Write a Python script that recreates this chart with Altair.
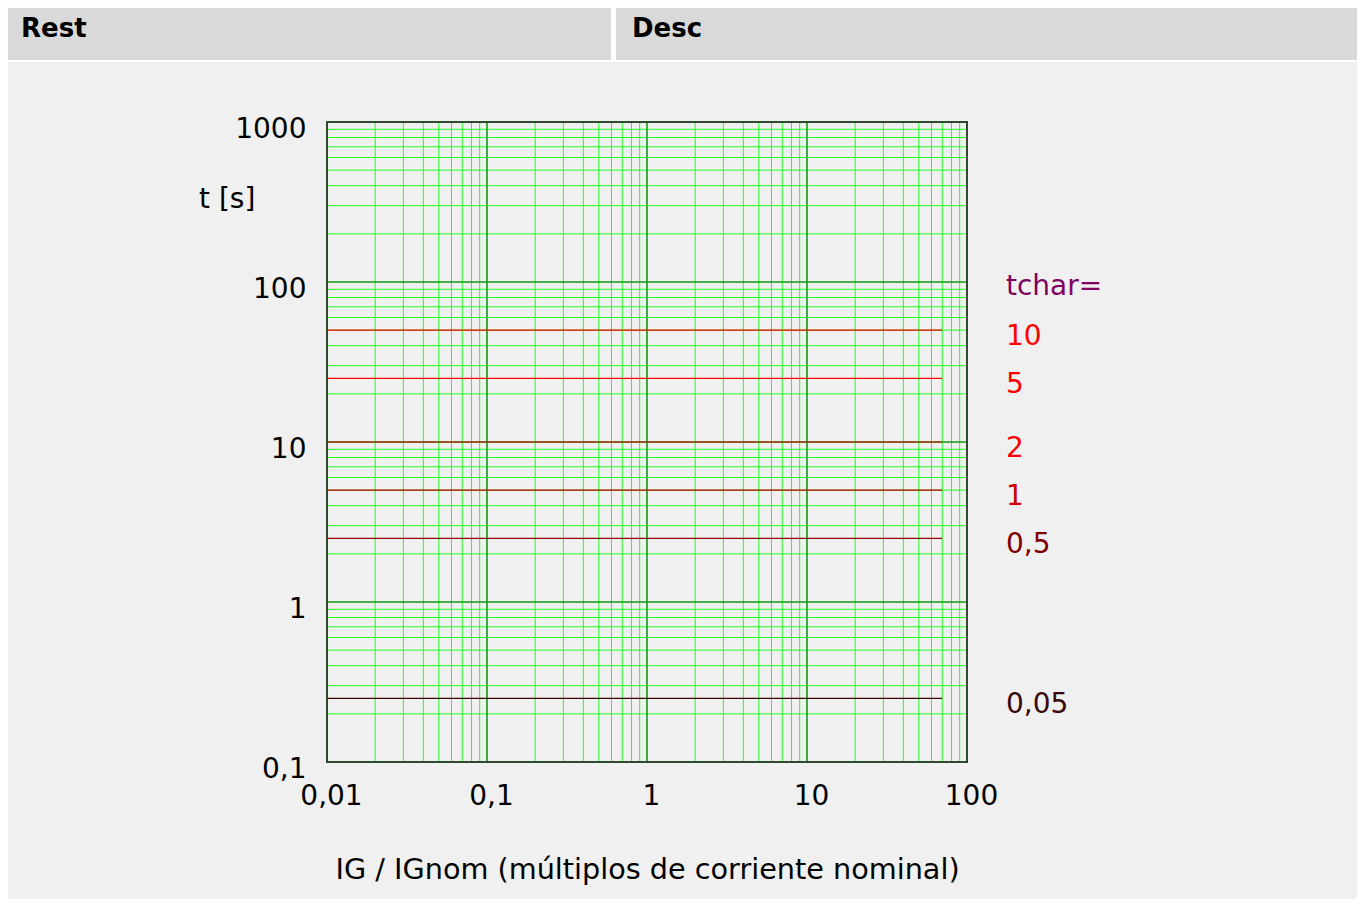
import altair as alt
import pandas as pd

# ---- data ----
x_major = [0.01, 0.1, 1, 10, 100]
y_major = [0.1, 1, 10, 100, 1000]
multipliers = [2, 3, 4, 5, 6, 7, 8, 9]
x_decades = [0.01, 0.1, 1, 10]
y_decades = [0.1, 1, 10, 100]
x_minor = [m * d for d in x_decades for m in multipliers]
y_minor = [m * d for d in y_decades for m in multipliers]

tchar_labels = ["10", "5", "2", "1", "0,5", "0,05"]
t_lines = [50, 25, 10, 5, 2.5, 0.25]
line_colors = ["#ff0000", "#ff0000", "#e00000", "#c80000", "#960000", "#3c0000"]
label_colors = ["#ff0000", "#ff0000", "#ff0000", "#cc0000", "#800000", "#3a0808"]
x_start = 0.01
x_end = 70

FONT = "DejaVu Sans"
FS = 28

xs = alt.Scale(type="log", domain=[0.01, 100], nice=False)
ys = alt.Scale(type="log", domain=[0.1, 1000], nice=False)

x_axis = alt.Axis(values=x_major, grid=False, ticks=False, domain=False,
                  labelExpr="replace(format(datum.value, '~g'), '.', ',')",
                  labelFlush=False, labelOverlap=False, labelPadding=20,
                  labelFontSize=FS, labelFont=FONT, labelColor="black",
                  labelOffset=4,
                  title="IG / IGnom (múltiplos de corriente nominal)",
                  titleFont=FONT, titleFontSize=28.7, titleFontWeight="normal",
                  titleColor="black", titlePadding=45)
y_axis = alt.Axis(values=y_major, grid=False, ticks=False, domain=False,
                  labelExpr="replace(format(datum.value, '~g'), '.', ',')",
                  labelFlush=False, labelOverlap=False, labelPadding=21,
                  labelFontSize=FS, labelFont=FONT, labelColor="black",
                  labelOffset=7, title=None)

one = pd.DataFrame({"a": [0]})

# header decoration
white_band = alt.Chart(one).mark_rect(color="white").encode(
    x=alt.value(-319), x2=alt.value(1031), y=alt.value(-114), y2=alt.value(-60))
hdr_rest = alt.Chart(one).mark_rect(color="#d9d9d9").encode(
    x=alt.value(-322), x2=alt.value(284), y=alt.value(-116), y2=alt.value(-62))
hdr_desc = alt.Chart(one).mark_rect(color="#d9d9d9").encode(
    x=alt.value(289), x2=alt.value(1031), y=alt.value(-116), y2=alt.value(-62))
txt_rest = alt.Chart(one).mark_text(text="Rest", font=FONT, fontSize=26, fontWeight="bold",
                                    align="left", baseline="alphabetic", color="black").encode(
    x=alt.value(-306), y=alt.value(-85))
txt_desc = alt.Chart(one).mark_text(text="Desc", font=FONT, fontSize=26, fontWeight="bold",
                                    align="left", baseline="alphabetic", color="black").encode(
    x=alt.value(305), y=alt.value(-85))

# grid
vminor = alt.Chart(pd.DataFrame({"x": x_minor})).mark_rule(
    color="#1fff1f", strokeWidth=1).encode(
    x=alt.X("x:Q", scale=xs, axis=x_axis))
hminor = alt.Chart(pd.DataFrame({"y": y_minor})).mark_rule(
    color="#1fff1f", strokeWidth=1).encode(
    y=alt.Y("y:Q", scale=ys, axis=y_axis))
vmajor = alt.Chart(pd.DataFrame({"x": x_major})).mark_rule(
    color="#129a12", strokeWidth=1.6).encode(
    x=alt.X("x:Q", scale=xs, axis=x_axis))
hmajor = alt.Chart(pd.DataFrame({"y": y_major})).mark_rule(
    color="#129a12", strokeWidth=1.6).encode(
    y=alt.Y("y:Q", scale=ys, axis=y_axis))

lines_df = pd.DataFrame({
    "t": t_lines, "x0": [x_start] * len(t_lines), "x1": [x_end] * len(t_lines),
    "lab": tchar_labels, "lc": line_colors, "tc": label_colors,
})
red_lines = alt.Chart(lines_df).mark_rule(strokeWidth=1.2).encode(
    x=alt.X("x0:Q", scale=xs, axis=x_axis), x2="x1:Q",
    y=alt.Y("t:Q", scale=ys, axis=y_axis),
    color=alt.Color("lc:N", scale=None))
labels = alt.Chart(lines_df).mark_text(font=FONT, fontSize=FS, align="left",
                                       baseline="middle", dy=7).encode(
    x=alt.value(679), y=alt.Y("t:Q", scale=ys, axis=y_axis),
    text="lab:N", color=alt.Color("tc:N", scale=None))
tchar_hdr = alt.Chart(pd.DataFrame({"t": [100]})).mark_text(
    text="tchar=", font=FONT, fontSize=FS, align="left", baseline="middle",
    dy=5, color="#800060").encode(
    x=alt.value(679), y=alt.Y("t:Q", scale=ys, axis=y_axis))
ytitle = alt.Chart(one).mark_text(text="t [s]", font=FONT, fontSize=FS, align="left",
                                  baseline="middle", color="black").encode(
    x=alt.value(-128), y=alt.value(78))
frame = alt.Chart(one).mark_rect(fill=None, stroke="#2e4a2e", strokeWidth=2).encode(
    x=alt.value(0), x2=alt.value(640), y=alt.value(0), y2=alt.value(640))

chart = alt.layer(
    white_band, hdr_rest, hdr_desc, txt_rest, txt_desc,
    vminor, hminor, vmajor, hmajor, red_lines, labels, tchar_hdr, ytitle, frame
).properties(
    width=640, height=640,
    padding={"left": 319, "top": 114, "right": 390, "bottom": 137},
    autosize=alt.AutoSizeParams(type="none"),
    background="#f0f0f0",
).configure_view(stroke=None)

chart.save("out.html", embed_options={"renderer": "svg", "actions": False})
